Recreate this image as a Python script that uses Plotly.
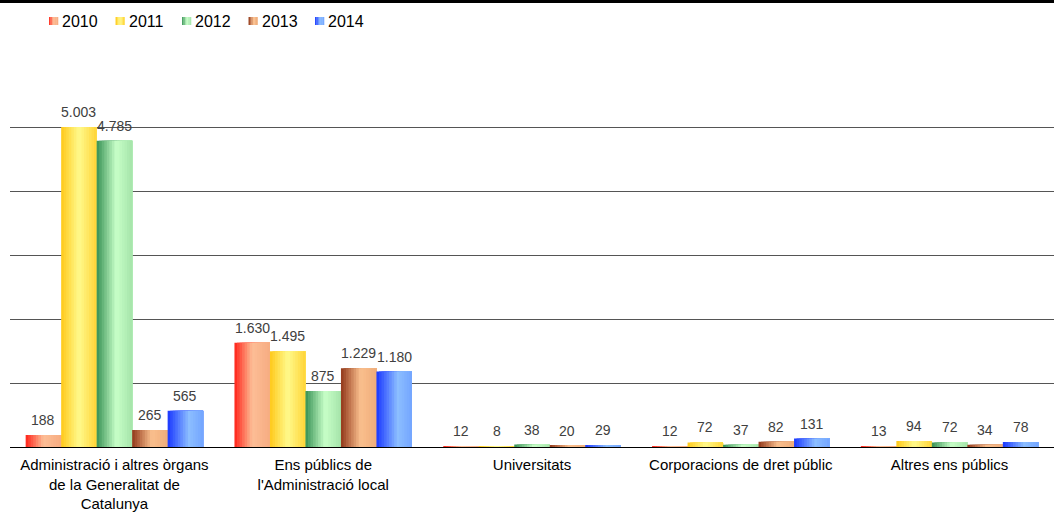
import plotly.graph_objects as go

categories = [
    "Administració i altres òrgans<br>de la Generalitat de<br>Catalunya",
    "Ens públics de<br>l'Administració local",
    "Universitats",
    "Corporacions de dret públic",
    "Altres ens públics",
]
years = ["2010", "2011", "2012", "2013", "2014"]
v2010 = [188, 1630, 12, 12, 13]
v2011 = [5003, 1495, 8, 72, 94]
v2012 = [4785, 875, 38, 37, 72]
v2013 = [265, 1229, 20, 82, 34]
v2014 = [565, 1180, 29, 131, 78]
series = [v2010, v2011, v2012, v2013, v2014]

# gradient stops (left -> right) for each series
gradients = [
    [(0.0, (255, 35, 25)), (0.5, (253, 190, 150)), (1.0, (246, 172, 130))],
    [(0.0, (255, 200, 25)), (0.5, (255, 250, 140)), (1.0, (255, 212, 55))],
    [(0.0, (55, 145, 85)), (0.55, (200, 255, 200)), (1.0, (165, 228, 170))],
    [(0.0, (145, 55, 25)), (0.55, (250, 192, 142)), (1.0, (238, 172, 122))],
    [(0.0, (25, 55, 255)), (0.6, (140, 190, 255)), (1.0, (115, 165, 255))],
]

W, H = 1054, 513
ML, MR, MT, MB = 10, 0, 63, 66
PW, PH = W - ML - MR, H - MT - MB
CAT_PX = PW / len(categories)


def px2x(px):
    return (px - ML) / PW


def py2y(py):
    return (H - MB - py) / PH


def grad_color(stops, t):
    for (t0, c0), (t1, c1) in zip(stops[:-1], stops[1:]):
        if t0 <= t <= t1:
            f = (t - t0) / (t1 - t0) if t1 > t0 else 0
            c = [round(a + (b - a) * f) for a, b in zip(c0, c1)]
            return "rgb(%d,%d,%d)" % tuple(c)
    return "rgb(%d,%d,%d)" % stops[-1][1]


def fmt(v):
    return "{:,}".format(v).replace(",", ".")


fig = go.Figure()
annotations = []
group_w = 0.85
bar_w = group_w / len(series)
N = 14
for i, (yr, vals, stops) in enumerate(zip(years, series, gradients)):
    start = -group_w / 2 + i * bar_w
    for k in range(N):
        off = start + k * bar_w / N
        w = bar_w - k * bar_w / N
        t = (k + 0.5) / N
        fig.add_trace(go.Bar(
            x=categories, y=vals,
            offset=off, width=w,
            marker=dict(color=grad_color(stops, t), line=dict(width=0)),
            name=yr, legendgroup=yr,
            showlegend=False,
            hoverinfo="skip" if k else "x+y+name",
        ))
    # value labels above each bar
    for cat, v in zip(categories, vals):
        annotations.append(dict(
            x=cat, y=v, xref="x", yref="y", text=fmt(v), showarrow=False,
            xanchor="center", yanchor="bottom",
            xshift=(start + bar_w / 2) * CAT_PX, yshift=5,
            font=dict(family="Liberation Sans, Arial", size=14, color="#404040")))

# custom legend (gradient icons + labels)
shapes = [dict(type="rect", xref="paper", yref="paper",
               x0=px2x(0), x1=1.0, y0=py2y(3), y1=py2y(0),
               fillcolor="black", line=dict(width=0), layer="above")]
leg_text_x0, leg_step, leg_cy = 62, 66.5, 21
M = 6
for i, (yr, stops) in enumerate(zip(years, gradients)):
    tx = leg_text_x0 + i * leg_step
    ix0 = tx - 13
    for k in range(M):
        shapes.append(dict(type="rect", xref="paper", yref="paper",
                           x0=px2x(ix0 + k * 9 / M), x1=px2x(ix0 + (k + 1) * 9 / M + 0.3),
                           y0=py2y(leg_cy + 4), y1=py2y(leg_cy - 4),
                           fillcolor=grad_color(stops, (k + 0.5) / M),
                           line=dict(width=0)))
    annotations.append(dict(text=yr, xref="paper", yref="paper",
                            x=px2x(tx - 2), y=py2y(leg_cy), xanchor="left", yanchor="middle",
                            showarrow=False,
                            font=dict(family="Liberation Sans, Arial", size=16, color="black")))

fig.update_layout(
    width=W, height=H,
    barmode="overlay",
    plot_bgcolor="white", paper_bgcolor="white",
    margin=dict(l=ML, r=MR, t=MT, b=MB, autoexpand=False),
    font=dict(family="Liberation Sans, Arial", color="black"),
    showlegend=False,
    xaxis=dict(showgrid=False, showline=True, linecolor="black", linewidth=1,
               tickfont=dict(size=15, color="black"), ticks="", automargin=False,
               ticklabelstandoff=4),
    yaxis=dict(range=[0, 6002], dtick=1000, showgrid=True, gridcolor="#555555",
               gridwidth=1, showticklabels=False, zeroline=False, fixedrange=True,
               automargin=False),
    shapes=shapes,
    annotations=annotations,
)

fig.write_html("out.html", config={"displayModeBar": False},
               post_script="document.body.style.margin='0px';")
